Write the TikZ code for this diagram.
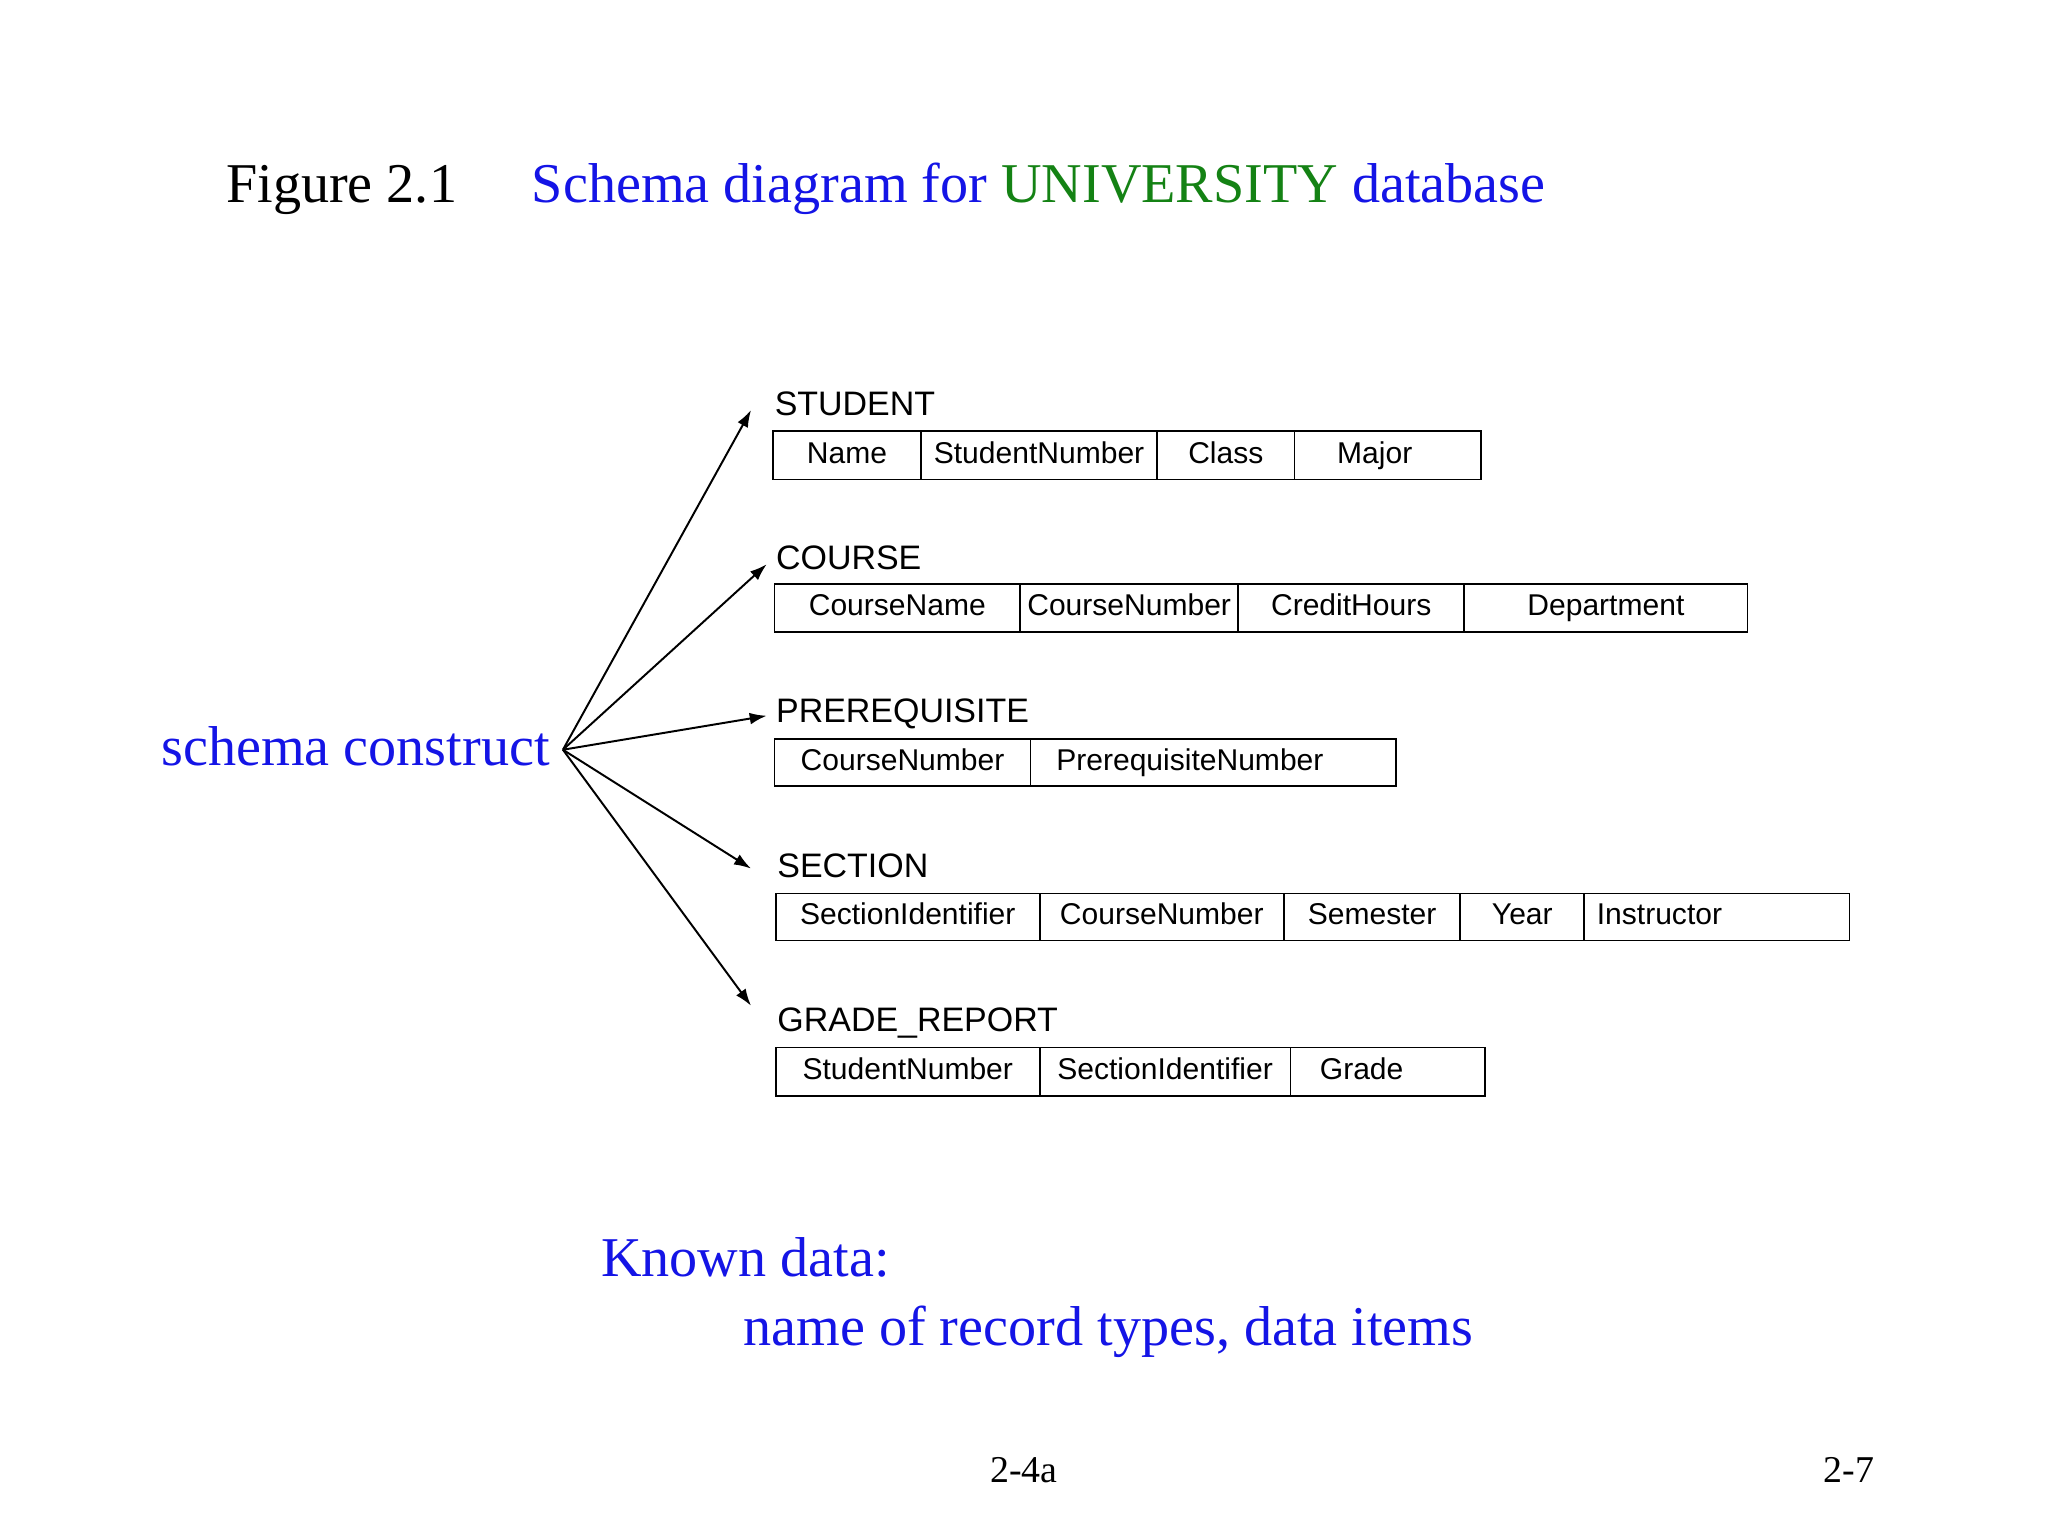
\documentclass[tikz,border=0pt]{standalone}
\usepackage{fontspec}
\setmainfont{Liberation Serif}
\newfontfamily\tabfont{Liberation Sans}
\usetikzlibrary{arrows.meta}
\definecolor{tblue}{RGB}{20,20,230}
\definecolor{tgreen}{RGB}{20,130,20}
\begin{document}
\begin{tikzpicture}[x=1pt,y=-1pt,
  ctext/.style={font=\tabfont\fontsize{23}{23}\selectfont,text height=17pt,text depth=5pt,inner sep=0pt},
  lab/.style={font=\tabfont\fontsize{26}{26}\selectfont,anchor=base west,inner sep=0pt},
  big/.style={font=\fontsize{43}{43}\selectfont,anchor=base west,inner sep=0pt},
  arr/.style={-{Latex[length=13pt,width=9pt]},line width=1.5pt}]
\useasboundingbox (0,0) rectangle (1568,1176);
\fill[white] (0,0) rectangle (1568,1176);
\node[big] (fig) at (173,155) {Figure 2.1};
\node[big,text=tblue] (ttl) at (407,155) {Schema diagram for \textcolor{tgreen}{UNIVERSITY} database};
% tables
\newcommand{\rowtab}[4]{%
  \foreach \a/\b/\t [count=\i] in {#3} {
    \draw[line width=1.3pt] (\a,#1) rectangle (\b,#2);
    \node[ctext] (#4\i) at ({(\a+\b)/2},{(#1+#2)/2}) {\t};
  }}
\node[lab] (student) at (593,318) {STUDENT};
\rowtab{330}{367}{592/705/Name,705/886/StudentNumber,886/991/Class,991/1134/\hspace*{-20pt}Major}{s}
\node[lab] (course) at (594,436) {COURSE};
\rowtab{447}{484}{593/781/CourseName,781/948/CourseNumber,948/1121/CreditHours,1121/1338/Department}{c}
\node[lab] (prereq) at (594,553) {PREREQUISITE};
\rowtab{566}{602}{593/789/CourseNumber,789/1069/\hspace*{-36pt}PrerequisiteNumber}{p}
\node[lab] (section) at (595,672) {SECTION};
\rowtab{684}{720}{594/796/SectionIdentifier,796/983/CourseNumber,983/1118/Semester,1118/1213/Year,1213/1416/\hspace*{-88pt}Instructor}{x}
\node[lab] (grade) at (595,790) {GRADE\_REPORT};
\rowtab{802}{839}{594/796/StudentNumber,796/988/SectionIdentifier,988/1137/\hspace*{-40pt}Grade}{g}
% arrows
\node[big,text=tblue,anchor=base east] (sc) at (421,586) {schema construct};
\coordinate (o) at (431,574);
\coordinate (t1) at (575,314);
\coordinate (t2) at (587,432);
\coordinate (t3) at (587,548);
\coordinate (t4) at (575,665);
\coordinate (t5) at (575,770);
\foreach \t in {t1,t2,t3,t4,t5} \draw[arr] (o) -- (\t);
\node[big,text=tblue] (kd) at (460,977) {Known data:};
\node[big,text=tblue] (nr) at (569,1030) {name of record types, data items};
\node[font=\fontsize{29}{29}\selectfont,anchor=base] (p1) at (784,1135) {2-4a};
\node[font=\fontsize{29}{29}\selectfont,anchor=base east,inner sep=0pt] (p2) at (1435,1135) {2-7};
\end{tikzpicture}
\end{document}
